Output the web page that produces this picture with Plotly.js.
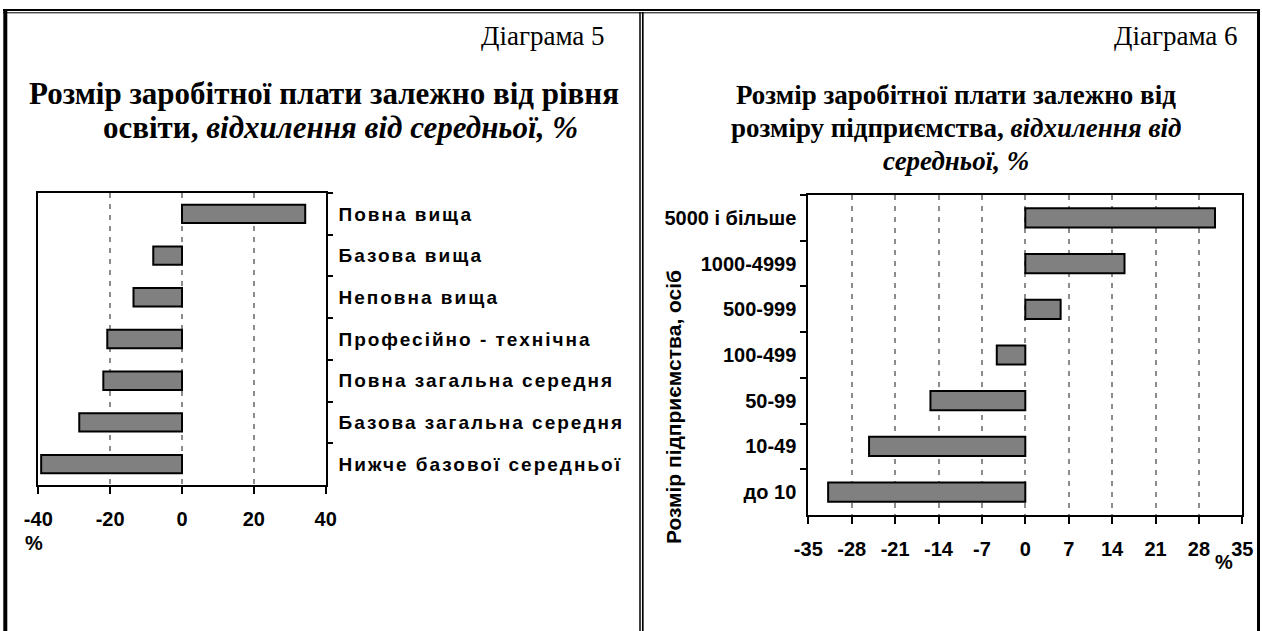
<!DOCTYPE html>
<html>
<head>
<meta charset="utf-8">
<script src="https://cdn.plot.ly/plotly-3.0.1.min.js"></script>
<style>
  html, body { margin:0; padding:0; background:#fff; }
  #chart { width:1262px; height:631px; }
  /* the left chart's category labels are widely spaced in the original */
  #chart .ytick text { letter-spacing: 2px; }
</style>
</head>
<body>
<div id="chart"></div>
<script>
// ---- data ----
const eduCategories = ['Повна вища', 'Базова вища', 'Неповна вища', 'Професійно - технічна',
                       'Повна загальна середня', 'Базова загальна середня', 'Нижче базової середньої'];
const eduValues = [34.3, -8.0, -13.5, -20.8, -21.9, -28.6, -39.2];
const eduTicks = [-40, -20, 0, 20, 40];

const sizeCategories = ['5000 і більше', '1000-4999', '500-999', '100-499', '50-99', '10-49', 'до 10'];
const sizeValues = [30.6, 16.0, 5.7, -4.6, -15.3, -25.2, -31.8];
const sizeTicks = [-35, -28, -21, -14, -7, 0, 7, 14, 21, 28, 35];

const W = 1262, H = 631;
const px = v => v / W;
const py = v => 1 - v / H;

const SANS = 'Liberation Sans, Arial, sans-serif';
const SERIF = 'Liberation Serif, Times New Roman, serif';

const barStyle = { color: '#808080', line: { color: '#000000', width: 2 } };

const traces = [
  { type: 'bar', orientation: 'h', x: eduValues, y: eduCategories, xaxis: 'x', yaxis: 'y',
    width: 0.44, marker: barStyle, hoverinfo: 'none' },
  { type: 'bar', orientation: 'h', x: sizeValues, y: sizeCategories, xaxis: 'x2', yaxis: 'y2',
    width: 0.42, marker: barStyle, hoverinfo: 'none' }
];

const xCommon = {
  ticks: 'outside', ticklen: 7, tickwidth: 2, tickcolor: '#000',
  showline: true, linewidth: 2, linecolor: '#000', mirror: true,
  showgrid: true, gridcolor: '#8c8c8c', gridwidth: 2, griddash: '5px,6px',
  zeroline: false, fixedrange: true,
  tickfont: { family: SANS, size: 20, color: '#000', weight: 'bold' },
  ticklabelstandoff: 8
};
const yCommon = {
  type: 'category', autorange: 'reversed', tickson: 'boundaries',
  ticks: 'outside', tickwidth: 2, tickcolor: '#000',
  showline: true, linewidth: 2, linecolor: '#000', mirror: true,
  showgrid: false, zeroline: false, fixedrange: true
};

const layout = {
  width: W, height: H,
  margin: { l: 0, r: 0, t: 0, b: 0 },
  paper_bgcolor: '#ffffff', plot_bgcolor: '#ffffff',
  showlegend: false,
  bargap: 0,
  xaxis: Object.assign({}, xCommon, {
    domain: [px(38.3), px(325.7)], range: [-40, 40], anchor: 'y',
    tickvals: eduTicks, ticktext: eduTicks.map(String)
  }),
  yaxis: Object.assign({}, yCommon, {
    domain: [py(485), py(193)], side: 'right', ticklen: 5, anchor: 'x',
    ticklabelstandoff: 7,
    tickfont: { family: SANS, size: 19, color: '#000', weight: 'bold' }
  }),
  xaxis2: Object.assign({}, xCommon, {
    domain: [px(808.3), px(1242.3)], range: [-35, 35], anchor: 'y2',
    tickvals: sizeTicks, ticktext: sizeTicks.map(String)
  }),
  yaxis2: Object.assign({}, yCommon, {
    domain: [py(515), py(195)], side: 'left', ticklen: 6, anchor: 'x2',
    ticklabelstandoff: 6,
    tickfont: { family: SANS, size: 20, color: '#000', weight: 'bold' }
  }),
  annotations: [
    { text: 'Діаграма 5', x: px(607), y: py(36), xanchor: 'right', yanchor: 'middle',
      font: { family: SERIF, size: 27, color: '#000' } },
    { text: 'Діаграма 6', x: px(1240), y: py(36), xanchor: 'right', yanchor: 'middle',
      font: { family: SERIF, size: 27, color: '#000' } },
    { text: '<b>Розмір заробітної плати залежно від рівня</b>', x: px(324), y: py(93),
      xanchor: 'center', yanchor: 'middle', font: { family: SERIF, size: 31, color: '#000' } },
    { text: '<b>освіти, <i>відхилення від середньої, %</i></b>', x: px(340), y: py(127),
      xanchor: 'center', yanchor: 'middle', font: { family: SERIF, size: 31, color: '#000' } },
    { text: '<b>Розмір заробітної плати залежно від</b>', x: px(956), y: py(95),
      xanchor: 'center', yanchor: 'middle', font: { family: SERIF, size: 27, color: '#000' } },
    { text: '<b>розміру підприємства, <i>відхилення від</i></b>', x: px(956), y: py(128),
      xanchor: 'center', yanchor: 'middle', font: { family: SERIF, size: 27, color: '#000' } },
    { text: '<b><i>середньої, %</i></b>', x: px(956), y: py(161),
      xanchor: 'center', yanchor: 'middle', font: { family: SERIF, size: 27, color: '#000' } },
    { text: '<b>%</b>', x: px(34), y: py(543), xanchor: 'center', yanchor: 'middle',
      font: { family: SANS, size: 20, color: '#000' } },
    { text: '<b>%</b>', x: px(1224), y: py(562), xanchor: 'center', yanchor: 'middle',
      font: { family: SANS, size: 20, color: '#000' } },
    { text: '<b>Розмір підприємства, осіб</b>', x: px(673), y: py(407), textangle: -90,
      xanchor: 'center', yanchor: 'middle', font: { family: SANS, size: 21, color: '#000' } }
  ].map(a => Object.assign({ xref: 'paper', yref: 'paper', showarrow: false }, a)),
  shapes: [
    { type: 'line', x0: px(3), x1: px(1260), y0: py(10), y1: py(10), line: { color: '#000', width: 2 } },
    { type: 'line', x0: px(3), x1: px(1260), y0: py(12.8), y1: py(12.8), line: { color: '#000', width: 1 } },
    { type: 'line', x0: px(5.3), x1: px(5.3), y0: py(9), y1: py(631), line: { color: '#000', width: 4 } },
    { type: 'line', x0: px(640), x1: px(640), y0: py(12), y1: py(631), line: { color: '#000', width: 1.5 } },
    { type: 'line', x0: px(642.8), x1: px(642.8), y0: py(12), y1: py(631), line: { color: '#000', width: 1.7 } },
    { type: 'line', x0: px(1258.5), x1: px(1258.5), y0: py(9), y1: py(631), line: { color: '#000', width: 3 } }
  ].map(s => Object.assign({ xref: 'paper', yref: 'paper', layer: 'above' }, s))
};

Plotly.newPlot('chart', traces, layout, { displayModeBar: false, staticPlot: true });
</script>
</body>
</html>
